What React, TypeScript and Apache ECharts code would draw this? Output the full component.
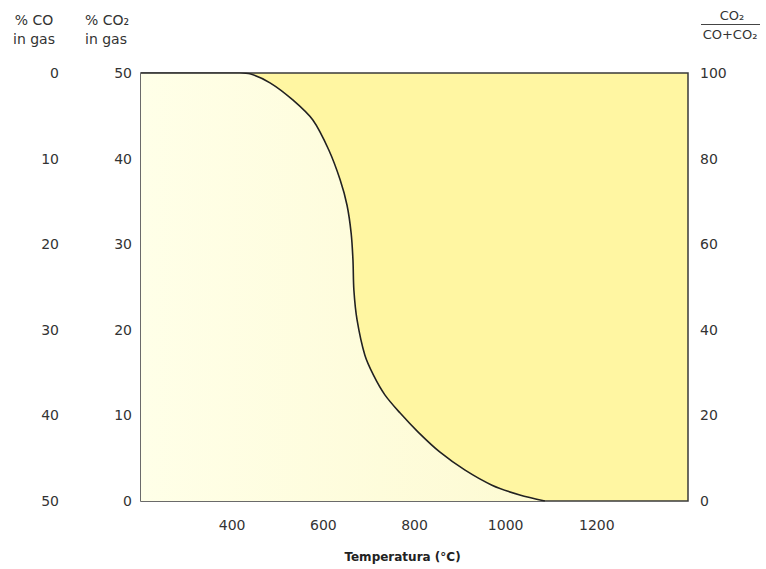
import React, { useEffect, useRef } from "react";
import * as echarts from "echarts";

const temperatures = [200, 300, 417, 439, 483, 533, 577, 612, 637, 652, 661, 665, 667, 674, 691, 710, 735, 768, 808, 856, 911, 970, 1031, 1086];
const co2Ratio = [100, 100, 100, 99.8, 97.7, 93.7, 89.0, 82.0, 75.0, 69.1, 62.6, 56.3, 49.3, 42.3, 34.1, 29.4, 24.8, 20.6, 16.1, 11.4, 7.2, 3.7, 1.4, 0];
const xTicks = { min: 200, max: 1400, interval: 200 };
const pctTicks = { min: 0, max: 50, interval: 10 };
const ratioTicks = { min: 0, max: 100, interval: 20 };

const FONT = "DejaVu Sans";

export default function App() {
  const ref = useRef<HTMLDivElement>(null);
  useEffect(() => {
    document.body.style.margin = "0";
    const chart = echarts.init(ref.current!, null, { renderer: "svg" });
    const data = temperatures.map((t, i) => [t, co2Ratio[i]]);
    const labelStyle = { color: "#333", fontFamily: FONT, fontSize: 14 };
    chart.setOption({
      animation: false,
      backgroundColor: "#ffffff",
      grid: {
        left: 141,
        right: 78,
        top: 73,
        bottom: 68,
        show: true,
        borderColor: "#3a3a3a",
        borderWidth: 1.5,
        backgroundColor: "#FFF6A2",
      },
      xAxis: {
        type: "value",
        min: xTicks.min,
        max: xTicks.max,
        interval: xTicks.interval,
        axisLine: { show: false },
        axisTick: { show: false },
        splitLine: { show: false },
        axisLabel: {
          ...labelStyle,
          margin: 17,
          showMinLabel: false,
          showMaxLabel: false,
          formatter: (v: number) => String(v),
        },
        name: "Temperatura (°C)",
        nameLocation: "middle",
        nameGap: 50,
        nameTextStyle: { color: "#222", fontFamily: FONT, fontSize: 12, fontWeight: "bold", padding: [0, 24, 0, 0] },
      },
      yAxis: [
        {
          type: "value",
          position: "left",
          min: pctTicks.min,
          max: pctTicks.max,
          interval: pctTicks.interval,
          offset: 0,
          axisLine: { show: false },
          axisTick: { show: false },
          splitLine: { show: false },
          axisLabel: { ...labelStyle, margin: 9 },
        },
        {
          type: "value",
          position: "left",
          min: pctTicks.min,
          max: pctTicks.max,
          interval: pctTicks.interval,
          inverse: true,
          offset: 73,
          axisLine: { show: false },
          axisTick: { show: false },
          splitLine: { show: false },
          axisLabel: { ...labelStyle, margin: 9 },
        },
        {
          type: "value",
          position: "right",
          min: ratioTicks.min,
          max: ratioTicks.max,
          interval: ratioTicks.interval,
          axisLine: { show: false },
          axisTick: { show: false },
          splitLine: { show: false },
          axisLabel: { ...labelStyle, margin: 12 },
        },
      ],
      series: [
        {
          type: "line",
          yAxisIndex: 2,
          data,
          smooth: 0.3,
          showSymbol: false,
          lineStyle: { color: "#222", width: 1.6 },
          areaStyle: {
            opacity: 1,
            color: new echarts.graphic.LinearGradient(0, 0, 1, 0, [
              { offset: 0, color: "#FFFFE8" },
              { offset: 1, color: "#FDFAD2" },
            ]),
          },
        },
      ],
      graphic: [
        { type: "text", x: 34, y: 20, style: { text: "% CO", fill: "#333", font: `14px "${FONT}"`, align: "center", verticalAlign: "middle" } },
        { type: "text", x: 34, y: 39, style: { text: "in gas", fill: "#333", font: `14px "${FONT}"`, align: "center", verticalAlign: "middle" } },
        { type: "text", x: 107, y: 20, style: { text: "% CO₂", fill: "#333", font: `14px "${FONT}"`, align: "center", verticalAlign: "middle" } },
        { type: "text", x: 106, y: 39, style: { text: "in gas", fill: "#333", font: `14px "${FONT}"`, align: "center", verticalAlign: "middle" } },
        { type: "text", x: 732, y: 15, style: { text: "CO₂", fill: "#333", font: `13px "${FONT}"`, align: "center", verticalAlign: "middle" } },
        { type: "line", shape: { x1: 701, y1: 24.5, x2: 760, y2: 24.5 }, style: { stroke: "#444", lineWidth: 1 } },
        { type: "text", x: 730, y: 34, style: { text: "CO+CO₂", fill: "#333", font: `13px "${FONT}"`, align: "center", verticalAlign: "middle" } },
      ],
    });
    return () => chart.dispose();
  }, []);
  return <div ref={ref} style={{ width: 766, height: 569 }} />;
}
